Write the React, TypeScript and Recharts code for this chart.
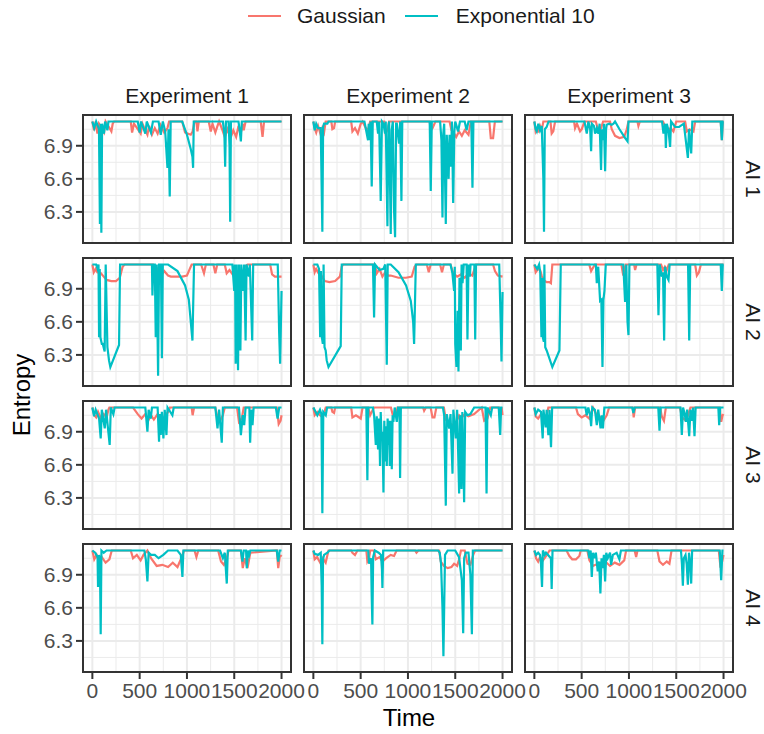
import { LineChart, Line, XAxis, YAxis, CartesianGrid } from 'recharts';

/* ============================================
   ENTROPY FACET GRID
   4 agents x 3 experiments, two noise models
   ============================================ */

type Pt = [number, number];

const experiments = ['Experiment 1', 'Experiment 2', 'Experiment 3'];
const agents = ['AI 1', 'AI 2', 'AI 3', 'AI 4'];
const seriesNames = ['Gaussian', 'Exponential 10'];
const seriesColors = ['#F8766D', '#00BFC4'];

const xTicks = [0, 500, 1000, 1500, 2000];
const xMinor = [250, 750, 1250, 1750];
const yTicks = [6.3, 6.6, 6.9];
const yMinor = [6.15, 6.45, 6.75, 7.05];
const xDomain: [number, number] = [-99, 2100];
const yDomain: [number, number] = [6.018, 7.179];

// ---- AI 1 ----
const gaussE1A1: Pt[] = [[0,7.12],[18,7.04],[35,7.12],[53,7.01],[70,7.10],[123,7.02],[140,7.12],[201,7.03],[215,7.10],[230,7.12],[406,7.12],[420,7.02],[440,7.10],[480,7.05],[511,7.01],[530,7.10],[560,7.04],[582,7.00],[600,7.08],[630,7.00],[660,7.06],[690,7.01],[720,7.09],[760,7.02],[794,7.06],[811,7.12],[950,7.12],[980,7.02],[1040,7.00],[1060,7.03],[1080,7.12],[1100,7.12],[1111,7.03],[1125,7.12],[1230,7.12],[1252,7.03],[1270,7.10],[1300,7.02],[1323,7.08],[1340,7.12],[1376,7.04],[1400,6.98],[1430,7.05],[1460,6.97],[1490,7.04],[1520,6.98],[1540,7.06],[1570,7.02],[1590,7.10],[1600,7.04],[1620,7.12],[1780,7.12],[1799,6.98],[1815,7.12],[2000,7.12]];
const expE1A1: Pt[] = [[0,7.12],[20,7.06],[40,7.12],[70,7.05],[80,6.19],[88,7.10],[95,6.11],[103,7.10],[123,7.01],[135,7.12],[159,7.04],[170,7.12],[480,7.12],[500,7.02],[515,7.12],[560,7.01],[575,7.12],[620,7.02],[640,7.12],[700,7.12],[723,7.00],[745,7.12],[770,7.03],[794,6.70],[805,7.05],[818,6.44],[828,7.12],[950,7.12],[1000,7.00],[1040,6.87],[1058,6.80],[1065,6.70],[1072,7.12],[1380,7.12],[1396,7.00],[1404,6.71],[1412,7.12],[1440,7.12],[1450,6.90],[1457,6.21],[1465,7.12],[1545,7.12],[1560,7.02],[1570,6.94],[1580,7.12],[2000,7.12]];
const gaussE2A1: Pt[] = [[0,7.12],[14,7.06],[30,7.02],[50,7.08],[78,7.00],[95,7.06],[113,7.02],[130,7.12],[190,7.12],[201,7.05],[219,7.06],[230,7.12],[400,7.12],[413,7.03],[440,7.06],[470,7.01],[501,7.10],[520,7.12],[554,7.06],[578,7.04],[600,7.12],[750,7.12],[765,7.01],[790,7.06],[800,7.12],[1230,7.12],[1241,7.04],[1260,7.06],[1290,7.12],[1440,7.12],[1460,7.04],[1480,7.02],[1510,6.98],[1540,7.03],[1570,6.99],[1600,7.04],[1640,7.00],[1665,7.12],[1860,7.12],[1876,6.97],[1900,6.97],[1919,7.12],[2000,7.12]];
const expE2A1: Pt[] = [[0,7.12],[14,7.04],[30,7.10],[50,7.06],[78,7.06],[90,6.40],[95,6.12],[103,7.07],[113,7.10],[148,7.10],[160,7.12],[540,7.12],[578,6.95],[585,7.10],[596,6.95],[605,7.12],[617,6.53],[628,7.12],[670,7.12],[684,7.01],[695,7.12],[712,6.40],[725,7.12],[741,7.10],[758,7.01],[765,7.12],[783,6.17],[793,7.08],[801,7.12],[818,6.10],[828,7.04],[840,7.12],[853,6.32],[864,6.07],[875,7.10],[882,7.10],[906,6.92],[918,7.12],[931,6.40],[940,7.12],[1230,7.12],[1241,6.49],[1252,7.12],[1340,7.12],[1354,6.95],[1365,6.25],[1374,7.01],[1383,7.10],[1400,6.19],[1410,7.00],[1418,6.86],[1430,6.60],[1440,7.00],[1453,6.71],[1465,7.12],[1478,6.38],[1490,7.03],[1500,7.12],[1530,7.03],[1550,7.12],[1600,7.12],[1620,7.04],[1640,7.12],[1670,7.12],[1682,6.52],[1692,7.12],[2000,7.12]];
const gaussE3A1: Pt[] = [[0,7.12],[14,7.03],[30,7.06],[42,7.02],[60,7.08],[78,7.04],[95,7.12],[170,7.12],[183,7.01],[200,7.03],[219,7.12],[420,7.12],[430,7.06],[450,7.10],[483,7.03],[501,7.05],[530,7.12],[650,7.12],[677,7.03],[705,7.06],[727,7.12],[800,7.12],[818,7.05],[853,6.99],[900,6.97],[950,6.98],[977,7.05],[995,7.12],[1090,7.12],[1100,7.08],[1115,7.12],[1360,7.12],[1383,7.07],[1410,7.04],[1440,7.06],[1470,7.03],[1500,7.12],[1594,7.12],[1612,7.03],[1640,7.05],[1682,7.03],[1700,7.12],[1970,7.12],[1982,6.95],[1992,7.12],[2000,7.12]];
const expE3A1: Pt[] = [[0,7.12],[14,7.05],[25,7.03],[42,7.10],[60,7.04],[78,7.08],[95,6.60],[102,6.12],[110,7.05],[130,7.07],[150,7.12],[530,7.12],[554,7.01],[571,7.12],[590,7.05],[600,6.85],[608,7.10],[630,7.08],[642,7.01],[660,7.06],[677,7.01],[690,7.10],[705,6.68],[714,7.05],[727,6.95],[736,7.10],[748,6.67],[758,7.05],[765,7.09],[790,7.10],[818,7.09],[836,7.10],[853,7.12],[900,7.05],[960,6.97],[985,6.94],[995,7.12],[1350,7.12],[1365,7.01],[1383,7.10],[1390,6.88],[1400,7.10],[1418,7.04],[1435,6.89],[1445,7.12],[1488,7.07],[1530,7.07],[1580,7.10],[1623,6.79],[1635,7.05],[1658,6.83],[1670,7.12],[1970,7.12],[1982,6.95],[1992,7.12],[2000,7.12]];

// ---- AI 2 ----
const gaussE1A2: Pt[] = [[0,7.12],[15,7.05],[35,7.08],[53,7.05],[90,7.04],[120,7.01],[150,6.98],[200,6.97],[250,6.97],[290,7.00],[320,7.10],[340,7.12],[640,7.12],[660,7.04],[690,7.08],[720,7.01],[760,7.06],[800,7.02],[830,7.01],[880,7.01],[950,7.01],[1000,7.02],[1030,7.08],[1050,7.12],[1150,7.12],[1180,7.04],[1200,7.12],[1280,7.12],[1300,7.04],[1320,7.12],[1400,7.12],[1420,7.04],[1450,7.07],[1500,7.01],[1530,7.06],[1580,7.02],[1610,7.10],[1640,7.12],[1880,7.12],[1900,7.03],[1930,7.01],[2000,7.01]];
const expE1A2: Pt[] = [[0,7.12],[40,7.12],[55,7.08],[65,7.12],[71,6.46],[78,7.08],[85,6.46],[100,6.40],[110,6.40],[130,6.33],[141,7.12],[159,6.37],[176,6.25],[190,6.19],[282,6.39],[293,7.12],[630,7.12],[635,6.84],[645,7.12],[660,7.12],[670,6.46],[680,7.12],[695,6.11],[705,7.12],[725,7.12],[735,6.27],[745,7.12],[800,7.12],[900,7.06],[980,6.93],[1020,6.80],[1058,6.43],[1075,7.12],[1480,7.12],[1500,6.88],[1505,7.12],[1510,6.95],[1515,6.22],[1525,7.12],[1540,6.16],[1550,7.12],[1565,6.34],[1575,7.12],[1590,6.88],[1605,7.12],[1620,6.43],[1630,7.12],[1655,7.01],[1665,7.12],[1690,6.43],[1700,7.12],[1960,7.12],[1975,6.50],[1985,6.22],[2000,6.88]];
const gaussE2A2: Pt[] = [[0,7.12],[14,7.05],[30,7.08],[55,7.04],[85,7.02],[120,6.97],[170,6.96],[230,6.97],[280,7.01],[300,7.10],[315,7.12],[650,7.12],[670,7.04],[700,7.08],[730,7.01],[760,7.05],[790,7.02],[818,7.02],[900,7.00],[980,7.00],[1040,7.01],[1070,7.10],[1090,7.12],[1200,7.12],[1220,7.05],[1240,7.12],[1340,7.12],[1360,7.05],[1380,7.12],[1450,7.12],[1480,7.04],[1520,7.01],[1560,7.03],[1600,7.00],[1640,7.04],[1680,7.02],[1720,7.12],[1900,7.12],[1920,7.06],[1950,7.02],[2000,7.01]];
const expE2A2: Pt[] = [[0,7.12],[42,7.12],[60,7.08],[72,6.46],[80,7.06],[90,6.46],[100,6.40],[108,7.12],[118,6.37],[130,6.34],[141,6.25],[160,6.19],[289,6.38],[300,7.12],[630,7.12],[642,6.64],[652,7.12],[700,7.07],[740,7.08],[760,7.12],[776,6.21],[786,7.12],[818,7.12],[900,7.05],[980,6.93],[1030,6.79],[1055,6.60],[1065,6.40],[1083,7.12],[1450,7.12],[1470,7.04],[1488,6.88],[1495,7.10],[1500,6.40],[1513,6.19],[1525,6.70],[1534,6.15],[1545,7.00],[1559,6.34],[1567,7.12],[1577,6.95],[1590,7.12],[1620,7.12],[1629,6.44],[1640,7.12],[1654,7.01],[1662,7.12],[1702,7.12],[1711,6.44],[1720,7.12],[1965,7.12],[1980,6.60],[1989,6.24],[2000,6.87]];
const gaussE3A2: Pt[] = [[0,7.12],[14,7.05],[40,7.08],[60,7.07],[78,7.02],[95,6.98],[130,6.96],[160,6.96],[175,6.95],[190,7.12],[580,7.12],[600,7.06],[620,7.09],[640,7.12],[920,7.12],[940,7.02],[965,7.12],[1055,7.12],[1065,7.07],[1080,7.12],[1340,7.12],[1360,7.07],[1380,7.10],[1400,7.07],[1420,7.12],[1700,7.12],[1718,7.02],[1740,7.05],[1760,7.12],[2000,7.12]];
const expE3A2: Pt[] = [[0,7.12],[30,7.08],[50,7.12],[62,7.05],[75,6.46],[85,7.00],[92,6.45],[100,6.42],[106,7.12],[115,6.37],[130,6.34],[190,6.19],[265,6.34],[279,7.12],[650,7.12],[660,6.95],[675,7.10],[695,6.79],[708,6.80],[720,6.19],[730,6.80],[741,6.88],[755,7.12],[940,7.12],[959,6.78],[972,7.12],[985,6.60],[995,6.48],[1005,7.12],[1300,7.12],[1312,6.66],[1325,7.12],[1347,7.01],[1360,7.05],[1372,6.43],[1382,7.10],[1400,7.01],[1418,6.98],[1430,7.12],[1625,7.12],[1637,6.43],[1648,7.12],[1970,7.12],[1982,6.88],[1992,7.12],[2000,7.12]];

// ---- AI 3 ----
const gaussE1A3: Pt[] = [[0,7.12],[20,7.05],[40,7.03],[60,7.08],[90,7.02],[120,7.06],[150,7.03],[170,7.10],[180,7.12],[430,7.12],[480,7.06],[520,7.02],[560,7.06],[590,7.00],[620,7.05],[650,7.01],[690,7.06],[720,7.00],[760,7.03],[800,7.08],[820,7.12],[1050,7.12],[1060,7.05],[1075,7.12],[1300,7.12],[1320,7.04],[1350,7.00],[1380,7.05],[1400,7.12],[1530,7.12],[1550,6.99],[1580,7.02],[1600,7.12],[1950,7.12],[1970,6.97],[1990,7.00],[2000,7.05]];
const expE1A3: Pt[] = [[0,7.12],[18,7.04],[35,7.10],[71,7.02],[88,6.84],[100,7.10],[131,6.93],[145,7.10],[183,6.78],[195,7.12],[222,7.06],[235,7.12],[560,7.12],[582,6.90],[595,7.10],[617,7.02],[630,7.12],[690,7.12],[705,6.81],[712,7.06],[723,6.87],[735,7.08],[751,6.84],[765,7.10],[783,6.87],[795,7.12],[846,7.05],[860,7.12],[1300,7.12],[1323,6.93],[1340,7.10],[1368,6.80],[1380,7.12],[1550,7.12],[1570,6.87],[1590,7.05],[1605,6.96],[1620,7.12],[1660,7.12],[1668,6.80],[1680,7.10],[1693,6.96],[1705,7.12],[1940,7.12],[1958,7.02],[1975,7.12],[2000,7.12]];
const gaussE2A3: Pt[] = [[0,7.12],[14,7.05],[42,7.08],[70,7.05],[100,7.03],[131,7.12],[190,7.12],[201,7.08],[219,7.07],[230,7.12],[400,7.12],[413,7.03],[450,7.05],[501,7.02],[520,7.12],[580,7.12],[600,7.05],[640,7.12],[820,7.12],[840,7.05],[870,7.05],[890,7.12],[1160,7.12],[1171,7.09],[1190,7.12],[1240,7.12],[1259,7.03],[1280,7.03],[1300,7.12],[1380,7.12],[1400,7.01],[1436,6.98],[1470,6.96],[1506,6.98],[1541,7.05],[1570,7.03],[1600,7.06],[1640,7.04],[1700,7.06],[1780,7.12],[1806,7.00],[1840,7.02],[1870,7.12],[1960,7.12],[1975,7.04],[1990,7.12],[2000,7.05]];
const expE2A3: Pt[] = [[0,7.12],[42,7.05],[70,7.10],[85,7.06],[95,6.16],[105,7.08],[131,7.05],[145,7.12],[560,7.12],[571,6.46],[580,7.12],[630,7.12],[642,7.05],[660,6.78],[670,7.04],[684,6.74],[695,7.02],[705,6.59],[712,7.08],[720,6.87],[730,6.90],[741,6.35],[750,7.00],[758,6.63],[766,6.95],[776,6.59],[785,7.02],[794,6.78],[800,7.00],[808,6.59],[818,7.00],[829,6.56],[838,7.05],[846,6.99],[860,7.12],[882,6.99],[895,7.12],[910,7.12],[917,6.48],[925,7.12],[1370,7.12],[1383,7.05],[1400,6.23],[1410,7.06],[1436,6.93],[1450,7.06],[1471,6.52],[1480,7.10],[1506,6.84],[1520,7.10],[1541,6.34],[1552,7.05],[1566,6.38],[1575,7.08],[1594,6.26],[1605,7.08],[1629,7.05],[1660,7.06],[1700,7.12],[1820,7.12],[1831,6.34],[1840,7.12],[1876,7.05],[1890,7.12],[1960,7.12],[1975,6.87],[1985,7.12],[2000,7.12]];
const gaussE3A3: Pt[] = [[0,7.12],[14,7.04],[40,7.02],[70,7.06],[100,7.03],[130,7.05],[148,7.12],[440,7.12],[460,7.06],[500,7.03],[540,7.05],[580,7.02],[620,7.12],[660,7.05],[700,7.03],[730,7.00],[765,7.05],[790,7.12],[1040,7.12],[1050,7.03],[1065,7.12],[1330,7.12],[1347,7.04],[1370,7.00],[1390,7.12],[1540,7.12],[1560,7.03],[1590,7.01],[1620,7.04],[1650,7.12],[1960,7.12],[1975,6.99],[1990,7.05],[2000,7.06]];
const expE3A3: Pt[] = [[0,7.12],[14,7.06],[40,7.10],[70,7.08],[88,6.84],[96,7.10],[120,6.94],[130,7.10],[148,6.87],[160,7.10],[176,6.76],[188,7.12],[540,7.12],[554,7.05],[570,7.12],[590,7.05],[600,6.95],[612,7.12],[640,7.10],[660,6.96],[675,7.10],[700,6.93],[712,7.05],[725,6.93],[740,7.12],[1035,7.12],[1047,7.07],[1060,7.12],[1310,7.12],[1323,6.91],[1335,7.12],[1545,7.12],[1559,6.87],[1572,7.12],[1590,7.06],[1601,6.99],[1615,7.10],[1637,6.86],[1650,7.10],[1665,7.00],[1678,7.12],[1693,6.86],[1705,7.12],[1945,7.12],[1954,6.96],[1965,7.12],[2000,7.12]];

// ---- AI 4 ----
const gaussE1A4: Pt[] = [[0,7.12],[20,7.04],[45,7.08],[70,7.02],[100,7.06],[140,7.01],[180,7.04],[205,7.12],[406,7.12],[430,7.05],[470,7.08],[510,7.03],[540,7.08],[582,7.12],[620,7.05],[680,6.98],[740,6.99],[800,6.97],[850,7.01],[900,6.97],[940,7.05],[970,7.12],[1080,7.12],[1100,7.06],[1120,7.12],[1330,7.12],[1360,7.02],[1390,6.99],[1420,7.05],[1440,7.12],[1570,7.12],[1590,6.96],[1610,7.05],[1640,6.96],[1670,7.10],[1950,7.12],[1965,6.96],[1980,7.06],[2000,7.08]];
const expE1A4: Pt[] = [[0,7.12],[30,7.10],[55,7.06],[60,6.79],[70,7.08],[80,7.02],[88,6.36],[96,7.12],[120,7.10],[150,7.12],[550,7.12],[565,7.04],[582,6.84],[595,7.10],[620,7.08],[660,7.08],[700,7.05],[750,7.08],[800,7.12],[900,7.12],[935,7.08],[952,6.88],[962,7.12],[1350,7.12],[1380,7.05],[1400,7.10],[1421,6.82],[1432,7.12],[1570,7.12],[1587,7.02],[1600,7.12],[1625,7.12],[1633,6.96],[1645,7.12],[1658,7.08],[1670,7.12],[1950,7.12],[1965,7.02],[1980,7.12],[2000,7.12]];
const gaussE2A4: Pt[] = [[0,7.12],[14,7.04],[40,7.06],[78,7.00],[100,7.05],[130,7.01],[160,7.12],[400,7.12],[413,7.10],[440,7.08],[466,7.12],[560,7.12],[571,7.02],[589,7.05],[600,7.12],[640,7.12],[660,7.04],[700,7.06],[730,7.02],[770,7.05],[818,7.08],[853,7.07],[880,7.12],[1075,7.12],[1090,7.10],[1110,7.12],[1330,7.12],[1347,7.02],[1380,6.98],[1420,6.96],[1460,6.97],[1488,7.00],[1520,6.98],[1541,7.04],[1560,7.12],[1600,7.12],[1629,7.00],[1660,6.99],[1690,7.08],[1710,7.12],[2000,7.12]];
const expE2A4: Pt[] = [[0,7.12],[14,7.09],[50,7.08],[78,7.10],[88,6.80],[95,6.27],[102,7.04],[113,7.08],[148,7.10],[170,7.12],[580,7.12],[589,7.00],[610,7.05],[617,6.70],[624,6.45],[632,7.06],[650,7.12],[690,7.10],[715,7.08],[725,6.95],[730,6.78],[738,7.12],[1320,7.12],[1336,7.10],[1350,7.00],[1365,6.60],[1375,6.16],[1383,6.60],[1392,7.08],[1420,7.12],[1500,7.12],[1540,7.06],[1570,6.85],[1584,6.37],[1594,7.05],[1612,7.10],[1640,7.10],[1660,6.90],[1676,6.36],[1686,7.12],[2000,7.12]];
const gaussE3A4: Pt[] = [[0,7.12],[18,7.05],[40,7.02],[60,7.06],[90,7.03],[123,7.07],[160,7.12],[340,7.12],[370,7.07],[400,7.04],[440,7.04],[476,7.07],[490,7.12],[560,7.12],[582,7.03],[620,6.98],[670,7.00],[700,6.97],[750,7.02],[800,6.98],[850,7.01],[900,6.99],[950,7.03],[970,7.12],[1060,7.12],[1076,7.06],[1090,7.12],[1300,7.12],[1323,7.02],[1360,6.99],[1400,7.02],[1428,7.00],[1450,7.12],[1950,7.12],[1965,6.99],[1985,7.02],[2000,7.08]];
const expE3A4: Pt[] = [[0,7.12],[18,7.08],[40,7.10],[60,7.08],[70,7.00],[81,6.79],[90,7.12],[110,7.08],[123,7.10],[175,7.05],[183,6.77],[192,7.12],[570,7.12],[582,7.05],[595,7.12],[607,6.88],[620,7.10],[635,7.05],[650,7.10],[670,6.93],[685,7.02],[698,6.73],[710,7.05],[723,6.96],[735,7.08],[748,6.84],[760,7.10],[776,7.05],[800,7.10],[811,6.99],[830,7.08],[870,7.10],[899,7.04],[915,7.12],[1550,7.12],[1560,7.00],[1570,6.80],[1580,7.05],[1598,7.08],[1610,7.00],[1623,6.81],[1635,7.10],[1648,7.00],[1658,6.82],[1668,7.12],[1960,7.12],[1975,6.85],[1988,7.12],[2000,7.12]];

const gaussGrid: Pt[][][] = [
  [gaussE1A1, gaussE2A1, gaussE3A1],
  [gaussE1A2, gaussE2A2, gaussE3A2],
  [gaussE1A3, gaussE2A3, gaussE3A3],
  [gaussE1A4, gaussE2A4, gaussE3A4],
];
const expGrid: Pt[][][] = [
  [expE1A1, expE2A1, expE3A1],
  [expE1A2, expE2A2, expE3A2],
  [expE1A3, expE2A3, expE3A3],
  [expE1A4, expE2A4, expE3A4],
];

// layout
const FONT = '"Liberation Sans", Arial, sans-serif';
const COL_X = [83, 304, 525];
const ROW_Y = [115, 258, 401, 544];
const PW = 208;
const PH = 128;
const Y_AXIS_W = 60;
const X_AXIS_H = 36;
const RIGHT_PAD = 30;

const toRows = (pts: Pt[]) => pts.map(([t, v]) => ({ t, v }));

const tickStyle = { fontSize: 21, fill: '#4D4D4D', fontFamily: FONT };
const tickLineStyle = { stroke: '#333333', strokeWidth: 2 };

const Panel = ({ row, col }: { row: number; col: number }) => {
  const showY = col === 0;
  const showX = row === agents.length - 1;
  const leftExtra = showY ? Y_AXIS_W : 0;
  const w = leftExtra + PW + (showX ? RIGHT_PAD : 0);
  const h = PH + (showX ? X_AXIS_H : 0);

  return (
    <div style={{ position: 'absolute', left: COL_X[col] - leftExtra, top: ROW_Y[row] }}>
      <LineChart
        width={w}
        height={h}
        margin={{ top: 0, right: showX ? RIGHT_PAD : 0, bottom: 0, left: 0 }}
      >
        <XAxis
          type="number"
          dataKey="t"
          domain={xDomain}
          allowDataOverflow
          ticks={xTicks}
          interval={0}
          hide={!showX}
          height={X_AXIS_H}
          tickSize={7}
          tickMargin={4}
          axisLine={false}
          tickLine={tickLineStyle}
          tick={tickStyle}
        />
        <YAxis
          type="number"
          domain={yDomain}
          allowDataOverflow
          ticks={yTicks}
          interval={0}
          hide={!showY}
          width={Y_AXIS_W}
          tickSize={7}
          tickMargin={3}
          axisLine={false}
          tickLine={tickLineStyle}
          tick={tickStyle}
        />
        <CartesianGrid
          verticalValues={xMinor}
          horizontalValues={yMinor}
          stroke="#EBEBEB"
          strokeWidth={1}
        />
        <CartesianGrid
          verticalValues={xTicks}
          horizontalValues={yTicks}
          stroke="#EBEBEB"
          strokeWidth={2}
        />
        <Line
          data={toRows(gaussGrid[row][col])}
          dataKey="v"
          name={seriesNames[0]}
          stroke={seriesColors[0]}
          strokeWidth={2.2}
          dot={false}
          isAnimationActive={false}
        />
        <Line
          data={toRows(expGrid[row][col])}
          dataKey="v"
          name={seriesNames[1]}
          stroke={seriesColors[1]}
          strokeWidth={2.2}
          dot={false}
          isAnimationActive={false}
        />
      </LineChart>
      <div
        style={{
          position: 'absolute',
          left: leftExtra - 1,
          top: -1,
          width: PW + 2,
          height: PH + 2,
          border: '2px solid #333333',
          boxSizing: 'border-box',
          pointerEvents: 'none',
        }}
      />
    </div>
  );
};

const App = () => {
  return (
    <div
      style={{
        position: 'absolute',
        left: 0,
        top: 0,
        width: 764,
        height: 734,
        background: '#fff',
        fontFamily: FONT,
        overflow: 'hidden',
      }}
    >
      {/* legend */}
      <div
        style={{
          position: 'absolute',
          left: 248,
          top: 4,
          height: 24,
          display: 'flex',
          alignItems: 'center',
          fontSize: 21,
          color: '#1A1A1A',
          whiteSpace: 'nowrap',
        }}
      >
        {seriesNames.map((name, i) => (
          <div key={name} style={{ display: 'flex', alignItems: 'center', marginRight: i === 0 ? 19 : 0 }}>
            <span style={{ width: 33, height: 2, background: seriesColors[i], marginRight: i === 0 ? 16 : 18 }} />
            <span>{name}</span>
          </div>
        ))}
      </div>

      {/* column strips */}
      {experiments.map((label, c) => (
        <div
          key={label}
          style={{
            position: 'absolute',
            left: COL_X[c],
            top: 84,
            width: PW,
            textAlign: 'center',
            fontSize: 21,
            lineHeight: '24px',
            color: '#1A1A1A',
          }}
        >
          {label}
        </div>
      ))}

      {/* row strips */}
      {agents.map((label, r) => (
        <div
          key={label}
          style={{
            position: 'absolute',
            left: 753,
            top: ROW_Y[r] + PH / 2,
            transform: 'translate(-50%, -50%) rotate(90deg)',
            fontSize: 21,
            lineHeight: '17px',
            color: '#1A1A1A',
            whiteSpace: 'nowrap',
          }}
        >
          {label}
        </div>
      ))}

      {agents.map((_, r) =>
        experiments.map((__, c) => <Panel key={`${r}-${c}`} row={r} col={c} />)
      )}

      {/* axis titles */}
      <div
        style={{
          position: 'absolute',
          left: 22,
          top: 395,
          transform: 'translate(-50%, -50%) rotate(-90deg)',
          fontSize: 24,
          lineHeight: '28px',
          color: '#000',
          whiteSpace: 'nowrap',
        }}
      >
        Entropy
      </div>
      <div
        style={{
          position: 'absolute',
          left: 409,
          top: 718,
          transform: 'translate(-50%, -50%)',
          fontSize: 24,
          lineHeight: '28px',
          color: '#000',
          whiteSpace: 'nowrap',
        }}
      >
        Time
      </div>
    </div>
  );
};

export default App;
